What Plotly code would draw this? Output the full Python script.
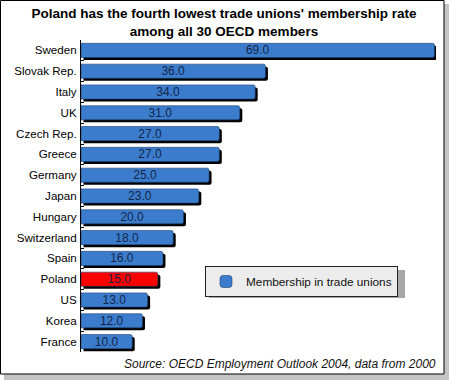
import plotly.graph_objects as go

countries = ["Sweden", "Slovak Rep.", "Italy", "UK", "Czech Rep.", "Greece", "Germany",
             "Japan", "Hungary", "Switzerland", "Spain", "Poland", "US", "Korea", "France"]
membership = [69.0, 36.0, 34.0, 31.0, 27.0, 27.0, 25.0, 23.0, 20.0, 18.0, 16.0, 15.0, 13.0, 12.0, 10.0]
highlight = "Poland"
series_name = "Membership in trade unions"
title_text = "Poland has the fourth lowest trade unions' membership rate<br>among all 30 OECD members"
source_text = "Source: OECD Employment Outlook 2004, data from 2000"

W, H = 449, 380
L, R, T, B = 81, 13, 40, 28
pw, ph = W - L - R, H - T - B
XMAX = 69.3
n = len(countries)

blue = "#3b7dcc"
colors = ["#ff0000" if c == highlight else blue for c in countries]

def px2x(px):
    return (px - L) / pw

def py2y(py):
    return (H - B - py) / ph

fig = go.Figure()
dx = 2.5 * XMAX / pw
dy = 2.5 * n / ph
# shadow bars (base axes, range shifted by ~2px)
fig.add_trace(go.Bar(
    y=countries, x=membership, orientation="h", xaxis="x", yaxis="y",
    marker=dict(color="#000000", line=dict(width=0), cornerradius=2),
    showlegend=False, hoverinfo="skip",
))
# main bars
fig.add_trace(go.Bar(
    y=countries, x=membership, orientation="h", xaxis="x2", yaxis="y2",
    name=series_name,
    marker=dict(color=colors, line=dict(color="#1c3f70", width=0.6), cornerradius=2),
    text=[f"{v:.1f}" for v in membership], textposition="inside", insidetextanchor="middle",
    constraintext="none",
    textfont=dict(family="Liberation Sans, Arial, sans-serif", size=12, color="#13254a"),
    textangle=0, hoverinfo="x+y",
))

fig.update_layout(
    width=W, height=H,
    margin=dict(l=L, r=R, t=T, b=B, autoexpand=False),
    paper_bgcolor="white", plot_bgcolor="rgba(0,0,0,0)",
    bargap=0.32,
    font=dict(family="Liberation Sans, Arial, sans-serif", size=12, color="#000"),
    title=dict(text="<b>" + title_text + "</b>", x=(224 / W), xanchor="center", xref="container",
               yref="container", y=(H - 18) / H, yanchor="middle",
               font=dict(size=13.5, color="#000")),
    xaxis=dict(range=[-dx, XMAX - dx], visible=False, fixedrange=True),
    yaxis=dict(type="category", categoryarray=countries, range=[n - 0.5 - dy, -0.5 - dy],
               visible=False),
    xaxis2=dict(range=[0, XMAX], overlaying="x", visible=False),
    yaxis2=dict(type="category", categoryarray=countries, range=[n - 0.5, -0.5],
                overlaying="y", side="left", showline=True, linecolor="#000", linewidth=1,
                ticks="inside", ticklen=3, tickcolor="#000", tickson="boundaries",
                automargin=False, ticklabelstandoff=1,
                tickfont=dict(size=11.6, color="#000"), showgrid=False),
    legend=dict(x=px2x(205), y=py2y(266), xanchor="left", yanchor="top",
                bgcolor="#ececec", bordercolor="#222", borderwidth=1,
                font=dict(size=11.8, color="#111"), itemwidth=30),
    annotations=[dict(text="<i>" + source_text + "</i>", xref="paper", yref="paper",
                      x=px2x(438), y=py2y(364), xanchor="right", yanchor="middle",
                      showarrow=False, font=dict(size=12, color="#111"))],
    shapes=[
        dict(type="rect", xref="paper", yref="paper", x0=px2x(4), x1=px2x(449), y0=py2y(4), y1=py2y(380),
             fillcolor="#c4c4c4", line=dict(width=0), layer="below"),
        dict(type="rect", xref="paper", yref="paper", x0=px2x(0.5), x1=px2x(444), y0=py2y(0.5), y1=py2y(374),
             fillcolor="white", line=dict(width=0), layer="below"),
        dict(type="rect", xref="paper", yref="paper", x0=px2x(0.5), x1=px2x(444), y0=py2y(0.5), y1=py2y(374),
             line=dict(color="#000", width=1), layer="above"),
        # legend drop shadow
        dict(type="rect", xref="paper", yref="paper", x0=px2x(209), x1=px2x(405), y0=py2y(270), y1=py2y(298),
             fillcolor="#a8a8a8", line=dict(width=0), layer="below"),
    ],
)

fig.write_html("out.html", config={"displayModeBar": False},
               post_script="document.body.style.margin='0';document.body.style.padding='0';")
